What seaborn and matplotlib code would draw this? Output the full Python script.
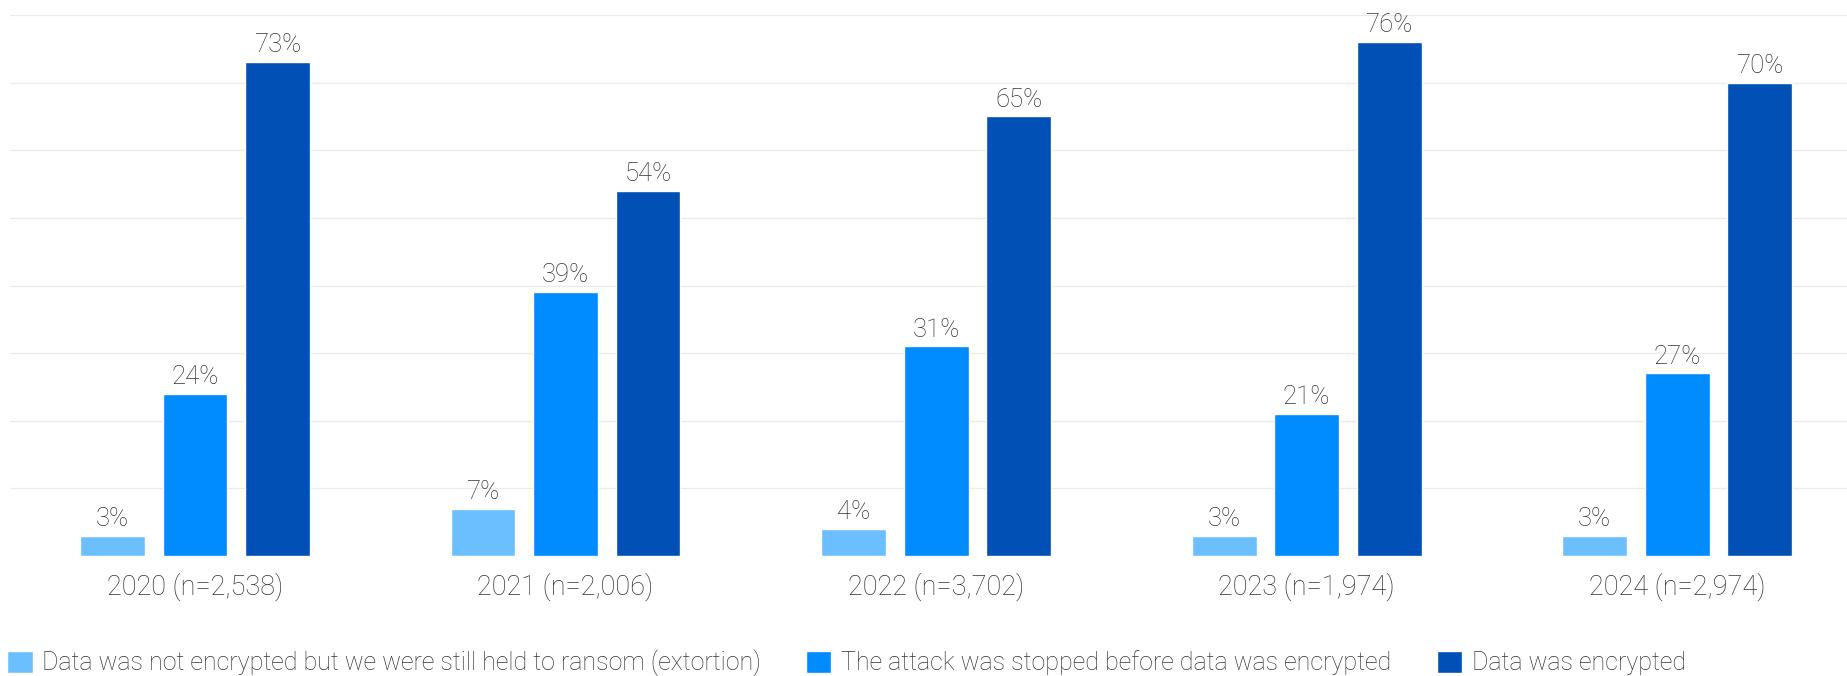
import matplotlib
matplotlib.use("Agg")
import matplotlib.pyplot as plt
import seaborn as sns
import pandas as pd

years = ["2020 (n=2,538)", "2021 (n=2,006)", "2022 (n=3,702)", "2023 (n=1,974)", "2024 (n=2,974)"]
series = [
    "Data was not encrypted but we were still held to ransom (extortion)",
    "The attack was stopped before data was encrypted",
    "Data was encrypted",
]
extortion = [3, 7, 4, 3, 3]
stopped = [24, 39, 31, 21, 27]
encrypted = [73, 54, 65, 76, 70]
colors = ["#6BBFFF", "#008BFF", "#0050B5"]

rows = []
for vals, s in zip([extortion, stopped, encrypted], series):
    for y, v in zip(years, vals):
        rows.append({"year": y, "series": s, "value": v})
df = pd.DataFrame(rows)

sns.set_theme(style="white")
plt.rcParams["font.family"] = ["Roboto", "DejaVu Sans"]
plt.rcParams["font.weight"] = "light"

fig = plt.figure(figsize=(18.47, 6.76), dpi=100)
ax = fig.add_axes([0.00525, 0.1775, 0.99475, 0.8003])

sns.barplot(data=df, x="year", y="value", hue="series", hue_order=series,
            palette=colors, width=0.668, gap=0.214, ax=ax, saturation=1,
            legend=True)

for c in ax.containers:
    ax.bar_label(c, fmt="%d%%", padding=3.5, fontsize=18.5, color="#333333")

ax.set_ylim(0, 80)
ax.set_xlim(-0.5, 4.458)
ax.set_yticks(range(0, 81, 10))
ax.set_yticklabels([])
ax.yaxis.grid(True, color="#EBEBEB", linewidth=1)
ax.set_axisbelow(True)
for sp in ax.spines.values():
    sp.set_visible(False)
ax.set_xlabel("")
ax.set_ylabel("")
ax.tick_params(axis="x", length=0, pad=12, labelsize=19.5, labelcolor="#333333")
ax.tick_params(axis="y", length=0)

handles, labels = ax.get_legend_handles_labels()
ax.legend_.remove()
fig.legend(handles, labels, loc="center left", bbox_to_anchor=(0.0, 0.019),
           ncol=3, frameon=False, fontsize=18, handlelength=1.0, handleheight=1.0,
           handletextpad=0.4, columnspacing=1.8, labelcolor="#333333",
           borderaxespad=0, borderpad=0.3)

fig.savefig("out.png", dpi=100)
